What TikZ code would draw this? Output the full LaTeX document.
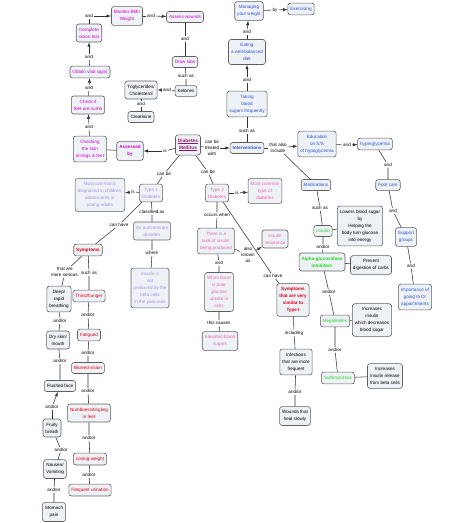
\documentclass[tikz,border=0pt]{standalone}
\usepackage{fontspec}
\setmainfont{Liberation Sans}
\definecolor{boxfill}{RGB}{238,241,246}
\definecolor{boxline}{RGB}{95,95,95}
\definecolor{cmag}{RGB}{205,0,205}
\definecolor{cdm}{RGB}{150,20,110}
\definecolor{cblue}{RGB}{45,85,205}
\definecolor{cred}{RGB}{215,0,20}
\definecolor{clav}{RGB}{170,145,225}
\definecolor{cpink}{RGB}{235,105,170}
\definecolor{cgreen}{RGB}{30,215,30}
\begin{document}
\begin{tikzpicture}[x=1pt,y=-1pt,>=latex,
  concept/.style={draw=boxline, fill=boxfill, rounded corners=2.5pt, line width=0.6pt, align=center,
    font=\fontsize{4.6}{7}\selectfont, inner xsep=2.5pt, inner ysep=3.8pt},
  plain/.style={concept, text=black},
  mag/.style={concept, text=cmag},
  magb/.style={concept, text=cmag, font=\fontsize{4.6}{7}\selectfont\bfseries},
  dmbox/.style={concept, text=cdm, font=\fontsize{4.8}{7}\selectfont\bfseries},
  blu/.style={concept, text=cblue},
  blub/.style={concept, text=cblue, font=\fontsize{4.6}{7}\selectfont\bfseries},
  red/.style={concept, text=cred},
  redb/.style={concept, text=cred, font=\fontsize{4.6}{7}\selectfont\bfseries},
  lav/.style={concept, text=clav},
  pink/.style={concept, text=cpink},
  grn/.style={concept, text=cgreen},
  grnb/.style={concept, text=cgreen, font=\fontsize{4.6}{7}\selectfont\bfseries},
  link/.style={align=center, font=\fontsize{4.6}{6}\selectfont, inner sep=1pt},
  conn/.style={line width=0.55pt, draw=black!80}]
  \useasboundingbox (0,0) rectangle (474,523);

  \node[mag] (monitor) at (127,16) {Monitor BMI/\\Weight};
  \node[mag] (assess) at (185,17) {Assess wounds};
  \node[mag] (drawlabs) at (185,62) {Draw labs};
  \node[plain] (ketones) at (186,91) {Ketones};
  \node[plain] (trig) at (141,90) {Triglycerides/\\Cholesterol};
  \node[plain] (creat) at (141,117) {Creatinine};
  \node[mag] (vision) at (89,33) {Complete\\vision test};
  \node[mag] (vital) at (90,72) {Obtain vital signs};
  \node[mag] (feet) at (88,105) {Check if\\feet are numb};
  \node[mag] (skin) at (90,149) {Checking\\the skin\\on legs \& feet};
  \node[magb] (assessed) at (130,151) {Assessed\\by};
  \node[dmbox] (dm) at (188,145) {\underline{Diabetes}\\\underline{Mellitus}};

  \node[blub] (interv) at (247,148) {Interventions};
  \node[blu] (taking) at (247,104) {Taking\\blood\\sugars frequently};
  \node[blu] (eating) at (247,52) {Eating\\a well-balanced\\diet};
  \node[blu] (managing) at (249,11) {Managing\\your weight};
  \node[blu] (exercise) at (301,9) {Exercising};
  \node[blu] (educ) at (317,144) {Education\\on S/S\\of hypoglycemia};
  \node[blu] (hyper) at (375,144) {hyperglycemia};
  \node[blu] (footcare) at (388,185) {Foot care};
  \node[blu] (support) at (406,237) {Support\\groups};
  \node[blu] (importance) at (415,297) {Importance of\\going to Dr\\appointments};
  \node[blu] (meds) at (316,185) {Medications};
  \node[grn] (insulin) at (323,231) {Insulin};
  \node[plain] (lowers) at (360,226) {Lowers blood sugar\\by\\Helping the\\body turn glucose\\into energy};
  \node[grnb] (alpha) at (322,262) {Alpha-glucosidase\\inhibitors};
  \node[plain] (prevent) at (371,265) {Prevent\\digestion of carbs};
  \node[grn] (meglit) at (335,321) {Meglitinides};
  \node[plain] (incr) at (372,320) {Increases\\insulin\\which decreases\\blood sugar};
  \node[grn] (sulf) at (338,378) {Sulfonylureas};
  \node[plain] (release) at (385,376) {Increases\\insulin release\\from beta cells};

  \node[lav] (typeone) at (151,193) {Type 1\\Diabetes};
  \node[lav] (young) at (100,195) {Most commonly\\diagnosed in children,\\adolescents or\\young adults};
  \node[lav] (autoimm) at (152,231) {An autoimmune\\disorder};
  \node[lav] (notprod) at (150,288) {Insulin is\\not\\produced by the\\beta cells\\in the pancreas};
  \node[redb] (sym) at (88,250) {Symptoms};
  \node[plain] (deep) at (59,299) {Deep/\\rapid\\breathing};
  \node[plain] (dry) at (58,340) {Dry skin/\\mouth};
  \node[plain] (flushed) at (60,386) {Flushed face};
  \node[plain] (fruity) at (52,428) {Fruity\\breath};
  \node[plain] (nausea) at (55,469) {Nausea/\\Vomiting};
  \node[plain] (stomach) at (54,512) {Stomach\\pain};
  \node[red] (thirst) at (89,296) {Thirst/hunger};
  \node[red] (fatigue) at (89,335) {Fatigued};
  \node[red] (blurred) at (88,368) {Blurred vision};
  \node[red] (numb) at (89,413) {Numbness/tingling\\in feet};
  \node[red] (losing) at (90,459) {Losing weight};
  \node[red] (freq) at (90,490) {Frequent urination};

  \node[pink] (typetwo) at (217,193) {Type 2\\Diabetes};
  \node[pink] (common) at (265,191) {Most common\\type of\\diabetes};
  \node[pink] (lack) at (216,241) {There is a\\lack of insulin\\being produced};
  \node[pink] (resist) at (275,239) {Insulin\\resistance};
  \node[pink] (poor) at (219,292) {When there\\is poor\\glucose\\uptake in\\cells};
  \node[pink] (elevated) at (220,341) {Elevated blood\\sugars};
  \node[redb] (similar) at (293,300) {Symptoms\\that are very\\similar to\\Type I};
  \node[plain] (infect) at (296,362) {Infections\\that are more\\frequent};
  \node[plain] (wounds) at (295,416) {Wounds that\\heal slowly};

  \node[link] (l1) at (89,16) {and};
  \node[link] (l2) at (151,16) {and};
  \node[link] (l3) at (185,39) {and};
  \node[link] (l4) at (186,76) {such as};
  \node[link] (l5) at (167,90) {and};
  \node[link] (l6) at (141,104) {and};
  \node[link] (l7) at (89,57) {and};
  \node[link] (l8) at (89,88) {and};
  \node[link] (l9) at (89,127) {and};
  \node[link] (l10) at (165,151) {is};
  \node[link] (l11) at (212,148) {can be\\treated\\with};
  \node[link] (l12) at (247,131) {such as};
  \node[link] (l13) at (247,80) {and};
  \node[link] (l14) at (247,32) {and};
  \node[link] (l15) at (275,10) {by};
  \node[link] (l16) at (278,148) {that also\\include};
  \node[link] (l17) at (347,145) {and};
  \node[link] (l18) at (388,165) {and};
  \node[link] (l19) at (393,211) {and};
  \node[link] (l20) at (411,266) {and};
  \node[link] (l21) at (320,208) {such as};
  \node[link] (l22) at (323,247) {and/or};
  \node[link] (l23) at (329,292) {and/or};
  \node[link] (l24) at (335,350) {and/or};
  \node[link] (l25) at (164,174) {can be};
  \node[link] (l26) at (133,192) {is};
  \node[link] (l27) at (152,212) {classified as};
  \node[link] (l28) at (152,253) {where};
  \node[link] (l29) at (119,225) {can have};
  \node[link] (l30) at (65,272) {that are\\more serious:};
  \node[link] (l31) at (89,273) {such as};
  \node[link] (l32) at (60,321) {and/or};
  \node[link] (l33) at (60,361) {and/or};
  \node[link] (l34) at (52,407) {and/or};
  \node[link] (l35) at (61,450) {and/or};
  \node[link] (l36) at (54,490) {and/or};
  \node[link] (l37) at (88,315) {and/or};
  \node[link] (l38) at (88,353) {and/or};
  \node[link] (l39) at (88,391) {and/or};
  \node[link] (l40) at (89,438) {and/or};
  \node[link] (l41) at (89,475) {and/or};
  \node[link] (l42) at (208,172) {can be};
  \node[link] (l43) at (237,193) {is};
  \node[link] (l44) at (217,215) {occurs when};
  \node[link] (l45) at (248,255) {also\\known\\as};
  \node[link] (l46) at (219,263) {and};
  \node[link] (l47) at (219,323) {this causes};
  \node[link] (l48) at (273,276) {can have};
  \node[link] (l49) at (294,333) {including};
  \node[link] (l50) at (295,392) {and/or};

  \draw[conn] (vision) -- (l1);
  \draw[conn,->] (l1) -- (monitor);
  \draw[conn] (monitor) -- (l2);
  \draw[conn,->] (l2) -- (assess);
  \draw[conn] (assess) -- (l3) -- (drawlabs);
  \draw[conn] (drawlabs) -- (l4) -- (ketones);
  \draw[conn] (ketones) -- (l5);
  \draw[conn,->] (l5) -- (trig);
  \draw[conn] (trig) -- (l6) -- (creat);
  \draw[conn] (vital) -- (l7);
  \draw[conn,->] (l7) -- (vision);
  \draw[conn] (feet) -- (l8);
  \draw[conn,->] (l8) -- (vital);
  \draw[conn] (skin) -- (l9);
  \draw[conn,->] (l9) -- (feet);
  \draw[conn] (assessed) -- (skin);
  \draw[conn] (dm) -- (l10);
  \draw[conn,->] (l10) -- (assessed);
  \draw[conn] (dm) -- (l11);
  \draw[conn,->] (l11) -- (interv);
  \draw[conn] (interv) -- (l12) -- (taking);
  \draw[conn] (taking) -- (l13);
  \draw[conn,->] (l13) -- (eating);
  \draw[conn] (eating) -- (l14);
  \draw[conn,->] (l14) -- (managing);
  \draw[conn] (managing) -- (l15);
  \draw[conn,->] (l15) -- (exercise);
  \draw[conn] (interv) -- (l16);
  \draw[conn,->] (l16) -- (educ);
  \draw[conn] (l16) -- (meds);
  \draw[conn] (educ) -- (l17);
  \draw[conn,->] (l17) -- (hyper);
  \draw[conn] (hyper) -- (l18) -- (footcare);
  \draw[conn] (footcare) -- (l19) -- (support);
  \draw[conn] (support) -- (l20) -- (importance);
  \draw[conn] (meds) -- (l21) -- (insulin);
  \draw[conn] (insulin) -- (lowers);
  \draw[conn] (insulin) -- (l22) -- (alpha);
  \draw[conn] (alpha) -- (prevent);
  \draw[conn] (alpha) -- (l23) -- (meglit);
  \draw[conn] (meglit) -- (incr);
  \draw[conn] (meglit) -- (l24) -- (sulf);
  \draw[conn] (sulf) -- (release);
  \draw[conn] (dm) -- (l25) -- (typeone);
  \draw[conn] (typeone) -- (l26);
  \draw[conn,->] (l26) -- (young);
  \draw[conn] (typeone) -- (l27) -- (autoimm);
  \draw[conn] (autoimm) -- (l28) -- (notprod);
  \draw[conn] (typeone) -- (l29) -- (sym);
  \draw[conn] (sym) -- (l30) -- (deep);
  \draw[conn] (sym) -- (l31) -- (thirst);
  \draw[conn] (deep) -- (l32) -- (dry);
  \draw[conn] (dry) -- (l33) -- (flushed);
  \draw[conn] (fruity) -- (l34);
  \draw[conn,->] (l34) -- (flushed);
  \draw[conn] (fruity) -- (l35) -- (nausea);
  \draw[conn] (nausea) -- (l36) -- (stomach);
  \draw[conn] (thirst) -- (l37) -- (fatigue);
  \draw[conn] (fatigue) -- (l38) -- (blurred);
  \draw[conn] (blurred) -- (l39) -- (numb);
  \draw[conn] (numb) -- (l40) -- (losing);
  \draw[conn] (losing) -- (l41) -- (freq);
  \draw[conn] (dm) -- (l42) -- (typetwo);
  \draw[conn] (typetwo) -- (l43);
  \draw[conn,->] (l43) -- (common);
  \draw[conn] (typetwo) -- (l44) -- (lack);
  \draw[conn] (lack) -- (l45);
  \draw[conn,->] (l45) -- (resist);
  \draw[conn] (lack) -- (l46) -- (poor);
  \draw[conn] (poor) -- (l47) -- (elevated);
  \draw[conn] (typetwo) -- (l48) -- (similar);
  \draw[conn] (similar) -- (l49) -- (infect);
  \draw[conn] (infect) -- (l50) -- (wounds);
\end{tikzpicture}
\end{document}
